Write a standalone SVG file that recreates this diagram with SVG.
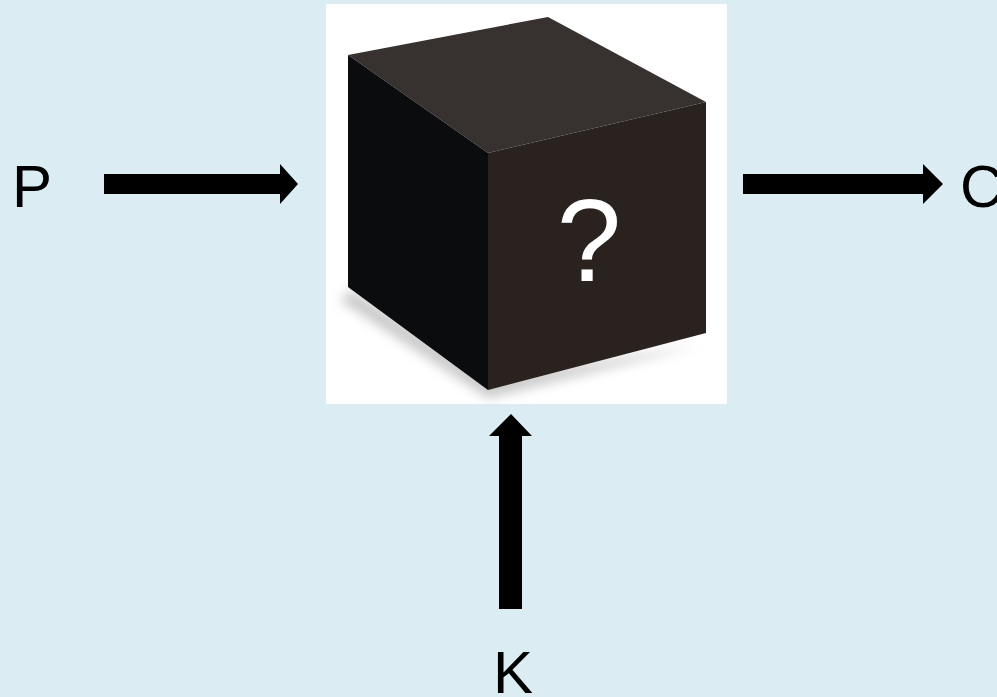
<svg xmlns="http://www.w3.org/2000/svg" width="997" height="697" viewBox="0 0 997 697">
  <style>
    .label { font-family: "Liberation Sans", Arial, sans-serif; font-size: 60px; fill: #000; }
    .arrow { fill: #000; }
  </style>
  <defs>
    <filter id="soft" x="-20%" y="-20%" width="140%" height="140%">
      <feGaussianBlur stdDeviation="6"/>
    </filter>
  </defs>
  <rect width="997" height="697" fill="#dbedf3"/>

  <!-- cipher box -->
  <g id="cipher">
    <rect x="326" y="4" width="401" height="400" fill="#ffffff"/>
    <polygon points="340,300 488,398 700,345 488,380 352,290" fill="#9a9a9a" opacity="0.55" filter="url(#soft)"/>
    <polygon points="348,55 548,17 706,102 488,153" fill="#37322f"/>
    <polygon points="348,55 488,153 488,390 348,287" fill="#0b0c0d"/>
    <polygon points="488,153 706,102 706,333 488,390" fill="#29221f"/>
    <text x="589" y="281" text-anchor="middle" font-family="'Liberation Sans', Arial, sans-serif" font-size="116" fill="#ffffff">?</text>
  </g>

  <!-- inputs and output labels -->
  <g id="plaintext"><text class="label" x="12" y="207">P</text></g>
  <g id="ciphertext"><text class="label" x="960" y="207">C</text></g>
  <g id="key"><text class="label" x="493" y="693">K</text></g>

  <!-- connectors -->
  <g id="connectors">
    <polygon class="arrow" points="104,174 280,174 280,164 298,184 280,204 280,194 104,194"/>
    <polygon class="arrow" points="743,174 923,174 923,164 943,184 923,204 923,194 743,194"/>
    <polygon class="arrow" points="499,609 499,436 489,436 511,414 532,436 522,436 522,609"/>
  </g>
</svg>
